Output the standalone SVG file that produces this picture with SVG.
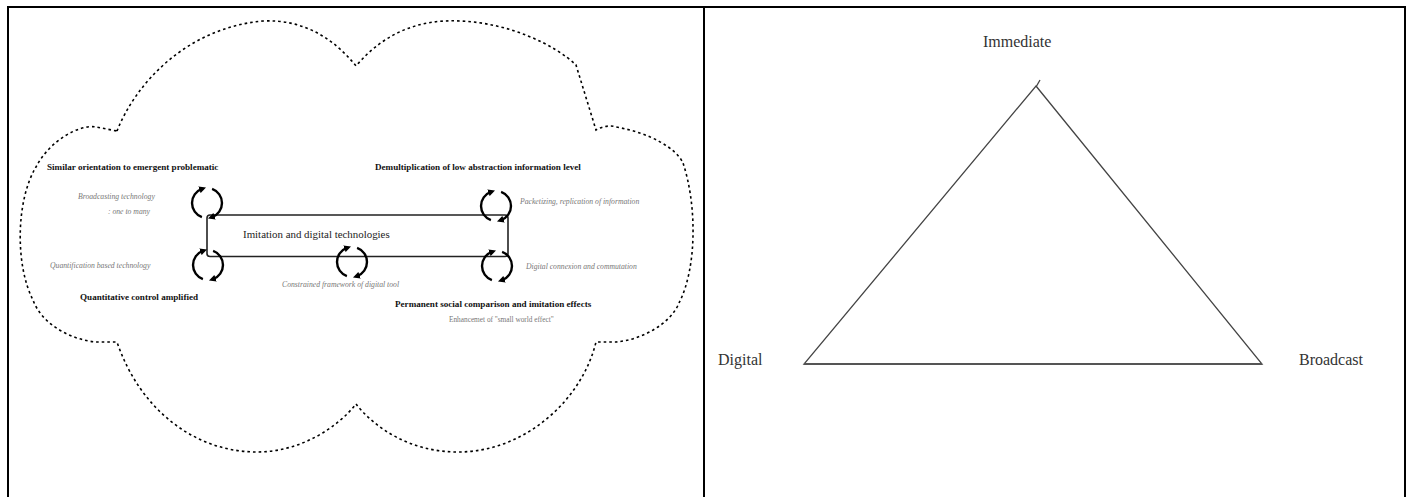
<svg xmlns="http://www.w3.org/2000/svg" width="1406" height="497" viewBox="0 0 1406 497">
<defs>
<style>
text{font-family:"Liberation Serif","Times New Roman",serif}
.b{font-weight:bold;font-size:9.1px;fill:#111}
.i{font-style:italic;font-size:7.7px;fill:#777}
.g{font-size:7.3px;fill:#777}
.main{font-size:10.9px;fill:#222}
.big{font-size:16px;fill:#333}
.cyc{fill:none;stroke:#000;stroke-width:2.4;marker-end:url(#ah)}
.cloud{fill:none;stroke:#000;stroke-width:1.6;stroke-dasharray:2.6 3}
.frame{stroke:#000;stroke-width:2;fill:none}
.tri{fill:none;stroke:#444;stroke-width:1.3}
</style>
<marker id="ah" viewBox="0 0 8 8" refX="3" refY="4" markerWidth="7" markerHeight="7" markerUnits="userSpaceOnUse" orient="auto">
<path d="M0,0 L8,4 L0,8 z" fill="#000"/>
</marker>
</defs>
<rect width="1406" height="497" fill="#fff"/>
<g id="frame">
<line class="frame" x1="7" y1="7" x2="1406" y2="7"/>
<line class="frame" x1="8" y1="6" x2="8" y2="497"/>
<line class="frame" x1="704" y1="6" x2="704" y2="497"/>
<line class="frame" x1="1405" y1="6" x2="1405" y2="497"/>
</g>
<g id="cloud">
<path class="cloud" d="M117,131 C135,85 185,28 263,21 C305,19 335,40 356,66 C385,32 420,19 460,21 C510,23 555,45 576,65 L596,130 C603,126 610,125 616,127 C650,133 676,148 683,163 C697,205 697,268 679,303 C670,325 640,340 616,342 L596,342 C582,400 525,452 458,452 C410,452 375,428 356,404 C337,428 300,452 257,452 C195,452 140,410 117,342 L96,342 C72,340 42,325 33,300 C15,265 16,200 36,167 C50,140 80,124 96,127 Z"/>
</g>
<g id="center-node">
<rect x="207" y="215" width="301" height="41.5" rx="3" fill="none" stroke="#222" stroke-width="1.6"/>
<text class="main" x="243" y="238">Imitation and digital technologies</text>
</g>
<g id="connectors">
<g id="cycle-top-left">
<path class="cyc" d="M201.9,217.1 A15 15 0 0 1 201.9,188.9"/>
<path class="cyc" d="M212.1,188.9 A15 15 0 0 1 212.1,217.1"/>
</g>
<g id="cycle-bottom-left">
<path class="cyc" d="M202.9,279.1 A15 15 0 0 1 202.9,250.9"/>
<path class="cyc" d="M213.1,250.9 A15 15 0 0 1 213.1,279.1"/>
</g>
<g id="cycle-bottom-middle">
<path class="cyc" d="M346.9,276.1 A15 15 0 0 1 346.9,247.9"/>
<path class="cyc" d="M357.1,247.9 A15 15 0 0 1 357.1,276.1"/>
</g>
<g id="cycle-top-right">
<path class="cyc" d="M490.9,220.1 A15 15 0 0 1 490.9,191.9"/>
<path class="cyc" d="M501.1,191.9 A15 15 0 0 1 501.1,220.1"/>
</g>
<g id="cycle-bottom-right">
<path class="cyc" d="M491.9,280.1 A15 15 0 0 1 491.9,251.9"/>
<path class="cyc" d="M502.1,251.9 A15 15 0 0 1 502.1,280.1"/>
</g>
</g>
<g id="label-similar">
<text class="b" x="47" y="170">Similar orientation to emergent problematic</text>
<text class="i" x="78" y="199">Broadcasting technology</text>
<text class="i" x="150" y="214" text-anchor="end">: one to many</text>
</g>
<g id="label-quantitative">
<text class="i" x="50" y="268">Quantification based technology</text>
<text class="b" x="80" y="300">Quantitative control amplified</text>
</g>
<g id="label-demultiplication">
<text class="b" x="375" y="170">Demultiplication of low abstraction information level</text>
<text class="i" x="520" y="204">Packetizing, replication of information</text>
</g>
<g id="label-constrained">
<text class="i" x="282" y="287">Constrained framework of digital tool</text>
</g>
<g id="label-permanent">
<text class="i" x="526" y="269">Digital connexion and commutation</text>
<text class="b" x="395" y="307">Permanent social comparison and imitation effects</text>
<text class="g" x="449" y="322">Enhancemet of "small world effect"</text>
</g>
<g id="triangle">
<polygon class="tri" points="1036,86 1262,364 804,364"/>
<line x1="804" y1="364" x2="1262" y2="364" stroke="#555" stroke-width="2"/>
<line x1="1036" y1="87" x2="1040" y2="80" stroke="#444" stroke-width="1.3"/>
</g>
<g id="node-immediate"><text class="big" x="983" y="47">Immediate</text></g>
<g id="node-digital"><text class="big" x="718" y="365">Digital</text></g>
<g id="node-broadcast"><text class="big" x="1299" y="365">Broadcast</text></g>
</svg>
